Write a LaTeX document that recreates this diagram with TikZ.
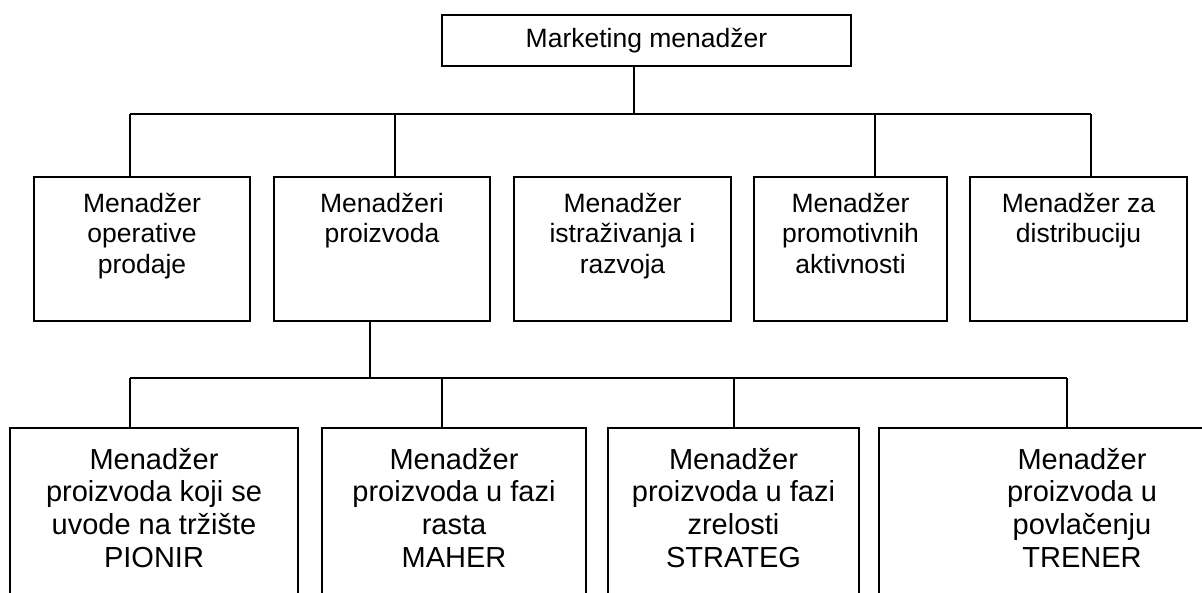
\documentclass[tikz,border=0pt]{standalone}
\usepackage{fontspec}
\setmainfont{Liberation Sans}
\begin{document}
\begin{tikzpicture}[x=1pt,y=-1pt,
  box/.style={draw=black, line width=1.5pt, inner sep=0pt},
  conn/.style={draw=black, line width=1.1pt},
  midtxt/.style={inner sep=0pt, anchor=north, align=center, font=\fontsize{26.5}{30.5}\selectfont},
  lowtxt/.style={inner sep=0pt, anchor=north, align=center, font=\fontsize{29}{32.7}\selectfont}]
\path[use as bounding box, clip] (0,0) rectangle (1202,592);
% top
\node[box, minimum width=409pt, minimum height=51pt, font=\fontsize{26.5}{30.5}\selectfont] (top) at (646.5,40.5) {Marketing menadžer};
% second row
\node[box, minimum width=216pt, minimum height=144pt] (b1) at (142,249) {};
\node[box, minimum width=216pt, minimum height=144pt] (b2) at (382,249) {};
\node[box, minimum width=217pt, minimum height=144pt] (b3) at (622.5,249) {};
\node[box, minimum width=193pt, minimum height=144pt] (b4) at (850.5,249) {};
\node[box, minimum width=217pt, minimum height=144pt] (b5) at (1078.5,249) {};
\node[midtxt] (t1) at (142,187) {\rule{0pt}{25pt}Menadžer\\operative\\prodaje};
\node[midtxt] (t2) at (382,187) {\rule{0pt}{25pt}Menadžeri\\proizvoda};
\node[midtxt] (t3) at (622.5,187) {\rule{0pt}{25pt}Menadžer\\istraživanja i\\razvoja};
\node[midtxt] (t4) at (850.5,187) {\rule{0pt}{25pt}Menadžer\\promotivnih\\aktivnosti};
\node[midtxt] (t5) at (1078.5,187) {\rule{0pt}{25pt}Menadžer za\\distribuciju};
% third row
\node[box, minimum width=288pt, minimum height=240pt] (c1) at (154,548) {};
\node[box, minimum width=264pt, minimum height=240pt] (c2) at (454,548) {};
\node[box, minimum width=251pt, minimum height=240pt] (c3) at (733.5,548) {};
\node[box, minimum width=406pt, minimum height=240pt] (c4) at (1082,548) {};
\node[lowtxt] (s1) at (154,444) {\rule{0pt}{25pt}Menadžer\\proizvoda koji se\\uvode na tržište\\PIONIR};
\node[lowtxt] (s2) at (454,444) {\rule{0pt}{25pt}Menadžer\\proizvoda u fazi\\rasta\\MAHER};
\node[lowtxt] (s3) at (733.5,444) {\rule{0pt}{25pt}Menadžer\\proizvoda u fazi\\zrelosti\\STRATEG};
\node[lowtxt] (s4) at (1082,444) {\rule{0pt}{25pt}Menadžer\\proizvoda u\\povlačenju\\TRENER};
% bus coordinates
\coordinate (j0) at (634,114);
\coordinate (u1) at (130,114);
\coordinate (u2) at (395,114);
\coordinate (u4) at (875,114);
\coordinate (u5) at (1091,114);
\coordinate (k0) at (370,378);
\coordinate (v1) at (130,378);
\coordinate (v2) at (442,378);
\coordinate (v3) at (734,378);
\coordinate (v4) at (1067,378);
% connectors
\draw[conn] (top.south -| j0) -- (j0);
\draw[conn] (u1) -- (u5);
\draw[conn] (u1) -- (u1 |- b1.north);
\draw[conn] (u2) -- (u2 |- b2.north);
\draw[conn] (u4) -- (u4 |- b4.north);
\draw[conn] (u5) -- (u5 |- b5.north);
\draw[conn] (b2.south -| k0) -- (k0);
\draw[conn] (v1) -- (v4);
\draw[conn] (v1) -- (v1 |- c1.north);
\draw[conn] (v2) -- (v2 |- c2.north);
\draw[conn] (v3) -- (v3 |- c3.north);
\draw[conn] (v4) -- (v4 |- c4.north);
\end{tikzpicture}
\end{document}
